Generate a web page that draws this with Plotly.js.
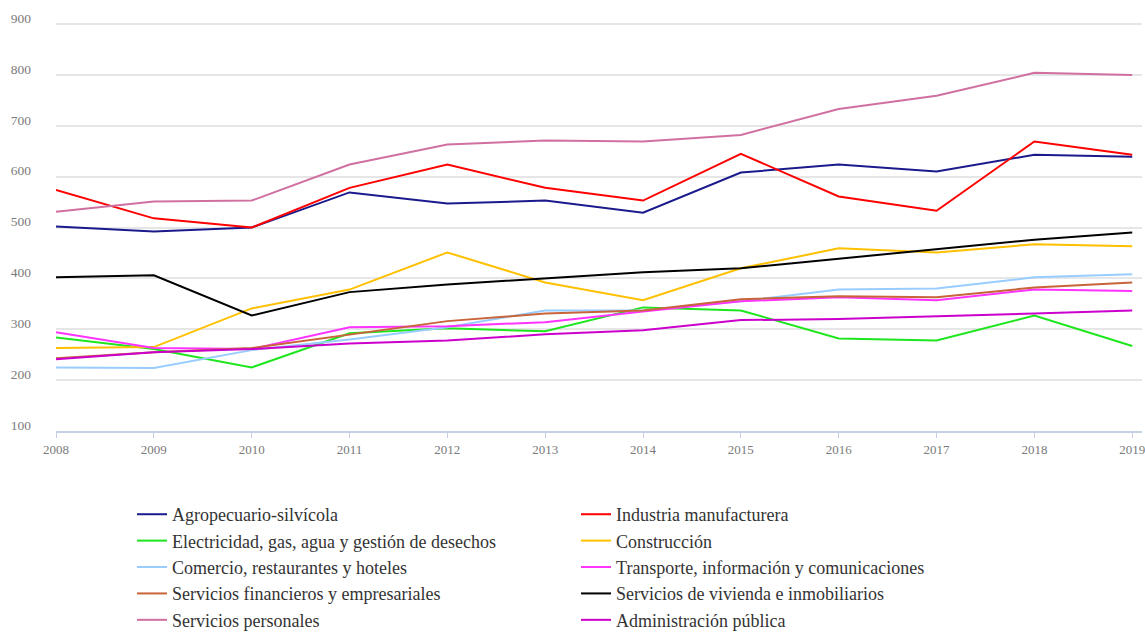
<!DOCTYPE html>
<html>
<head>
<meta charset="utf-8">
<script src="https://cdn.plot.ly/plotly-3.0.1.min.js"></script>
<style>
  html, body { margin: 0; padding: 0; background: #fff; }
  #chart { width: 1145px; height: 633px; }
</style>
</head>
<body>
<div id="chart"></div>
<script>
const years = [2008, 2009, 2010, 2011, 2012, 2013, 2014, 2015, 2016, 2017, 2018, 2019];

const agropecuario = [502, 492, 500, 569, 547, 553, 529, 608, 624, 610, 643, 639];
const industria = [574, 518, 500, 578, 624, 578, 553, 645, 561, 533, 669, 643];
const electricidad = [284, 261, 225, 292, 302, 296, 343, 337, 282, 278, 327, 267];
const construccion = [263, 265, 341, 378, 451, 392, 357, 420, 459, 451, 467, 463];
const comercio = [225, 224, 259, 280, 304, 337, 337, 355, 378, 380, 402, 408];
const transporte = [294, 263, 261, 304, 306, 314, 335, 355, 363, 357, 378, 375];
const financieros = [243, 255, 263, 290, 316, 331, 337, 359, 365, 363, 382, 392];
const vivienda = [402, 406, 327, 373, 388, 400, 412, 420, 439, 457, 476, 490];
const personales = [531, 551, 553, 624, 663, 671, 669, 682, 733, 759, 804, 800];
const administracion = [241, 255, 261, 272, 278, 290, 298, 318, 320, 325, 331, 337];

const yTicks = [100, 200, 300, 400, 500, 600, 700, 800, 900];

const series = [
  { name: "Agropecuario-silvícola", y: agropecuario, color: "#1a1a8c" },
  { name: "Industria manufacturera", y: industria, color: "#ff0000" },
  { name: "Electricidad, gas, agua y gestión de desechos", y: electricidad, color: "#1ee61e" },
  { name: "Construcción", y: construccion, color: "#ffc000" },
  { name: "Comercio, restaurantes y hoteles", y: comercio, color: "#99ccff" },
  { name: "Transporte, información y comunicaciones", y: transporte, color: "#ff33ff" },
  { name: "Servicios financieros y empresariales", y: financieros, color: "#c8643a" },
  { name: "Servicios de vivienda e inmobiliarios", y: vivienda, color: "#000000" },
  { name: "Servicios personales", y: personales, color: "#d070a0" },
  { name: "Administración pública", y: administracion, color: "#cc00cc" }
];

const traces = series.map(s => ({
  type: "scatter",
  mode: "lines",
  name: s.name,
  x: years,
  y: s.y,
  line: { color: s.color, width: 2 }
}));

const layout = {
  width: 1145,
  height: 633,
  paper_bgcolor: "#ffffff",
  plot_bgcolor: "#ffffff",
  // legend sits in the bottom margin, don't let it push the plot up
  margin: { t: 22, r: 3, b: 202, l: 56, autoexpand: false },
  font: { family: "Liberation Serif, Times New Roman, serif", color: "#333" },
  showlegend: true,
  xaxis: {
    range: [2008, 2019.1],
    tickvals: years,
    ticktext: years.map(String),
    showgrid: false,
    zeroline: false,
    showline: true,
    linecolor: "#c6d0e4",
    linewidth: 1.5,
    ticks: "outside",
    ticklen: 5,
    tickcolor: "#c6d0e4",
    ticklabelstandoff: 1,
    ticklabeloverflow: "allow",
    tickfont: { size: 13, color: "#7a7a7a" }
  },
  yaxis: {
    range: [100, 904],
    tickvals: yTicks,
    showgrid: true,
    gridcolor: "#e6e6e6",
    gridwidth: 2,
    zeroline: false,
    showline: false,
    ticks: "",
    ticklabelstandoff: 24,
    ticklabelshift: -6,
    tickfont: { size: 13.5, color: "#7a7a7a" }
  },
  legend: {
    orientation: "h",
    x: 0.07,
    xanchor: "left",
    y: -0.159,
    yanchor: "top",
    entrywidth: 399,
    itemwidth: 30,
    font: { size: 18, color: "#333" },
    tracegroupgap: 0
  }
};

Plotly.newPlot("chart", traces, layout, { displayModeBar: false, staticPlot: true });
</script>
</body>
</html>
